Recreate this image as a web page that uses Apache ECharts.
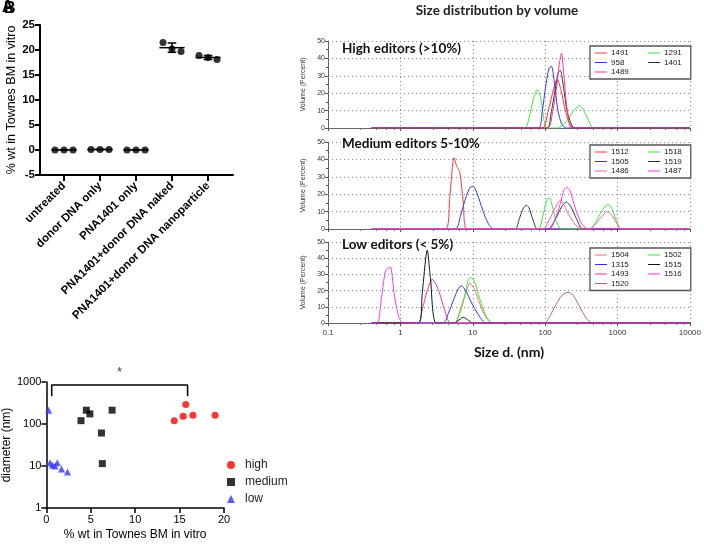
<!DOCTYPE html>
<html><head><meta charset="utf-8">
<script src="https://cdn.jsdelivr.net/npm/echarts@6/dist/echarts.min.js"></script>
<style>html,body{margin:0;padding:0;background:#fff}#c{width:704px;height:544px}</style>
</head><body><div id="c"></div>
<script>
// ---------- Panel A data ----------
const catsA = ['untreated','donor DNA only','PNA1401 only','PNA1401+donor DNA naked','PNA1401+donor DNA nanoparticle'];
const valsA = [
  [0, 0, 0],
  [0.1, 0.1, 0.1],
  [0, 0, 0],
  [21.5, 20.2, 19.7],
  [18.9, 18.5, 18.1]
];

// ---------- Panel B data (size nm, volume %) ----------
const highCol1 = ['1491','958','1489'];
const highCol2 = ['1291','1401'];
const h1491 = [[0.4,0],[90,0],[110,10],[130,22],[146,28],[165,22],[190,10],[215,3],[243,0],[10000,0]];
const h958  = [[0.4,0],[80,0],[90,8],[100,22],[112,34],[122,35.5],[135,25],[150,10],[170,2],[196,0],[10000,0]];
const h1291 = [[0.4,0],[52,0],[60,6],[68,16],[78,22],[86,18],[95,6],[105,0],[150,0],[190,3],[240,9],[300,13],[350,9],[410,3],[460,0],[10000,0]];
const h1401 = [[0.4,0],[105,0],[120,8],[137,22],[152,32],[162,33],[178,24],[200,10],[225,3],[251,0],[10000,0]];
const h1489 = [[0.4,0],[108,0],[125,8],[142,22],[158,38],[168,43],[180,32],[195,15],[212,4],[230,0],[10000,0]];

const medCol1 = ['1512','1505','1486'];
const medCol2 = ['1518','1519','1487'];
const m1512 = [[0.4,0],[4.2,0],[4.8,18],[5.5,41],[6.0,36],[6.6,33],[7.4,15],[8.3,0],[10000,0]];
const m1505 = [[0.4,0],[5.7,0],[6.8,8],[8.0,18],[9.2,24],[10.2,24.5],[12,18],[14.5,8],[17,2],[19.7,0],[10000,0]];
const m1518 = [[0.4,0],[80,0],[92,7],[104,16],[114,18],[124,14],[140,5],[160,0.5],[178,0],[410,0],[500,4],[600,10],[740,14.3],[850,11],[980,4],[1120,0],[10000,0]];
const m1519 = [[0.4,0],[38,0],[44,6],[50,12],[55,13.7],[60,12],[68,5],[78,0],[110,0],[140,6],[170,13],[196,15.5],[225,13],[270,6],[333,0],[10000,0]];
const m1486 = [[0.4,0],[94,0],[110,4],[130,10],[150,15],[164,16.6],[185,13],[220,7],[270,2],[333,0],[410,0],[500,3],[600,7],[712,10],[830,8],[980,3],[1120,0],[10000,0]];
const m1487 = [[0.4,0],[115,0],[135,5],[160,14],[180,22],[196,24],[220,22],[260,12],[320,3],[390,0],[10000,0]];

const lowCol1 = ['1504','1315','1493','1520'];
const lowCol2 = ['1502','1515','1516'];
const l1504 = [[0.4,0],[5.6,0],[6.5,6],[7.5,15],[8.5,22],[9.2,24.6],[10.5,21],[12.5,12],[15,4],[18.8,0],[10000,0]];
const l1315 = [[0.4,0],[3.9,0],[4.6,6],[5.5,15],[6.3,21],[6.9,23],[8.0,20],[9.5,13],[12,5],[15.2,0],[10000,0]];
const l1493 = [[0.4,0],[1.75,0],[2.0,8],[2.35,20],[2.76,27],[3.1,24],[3.5,18],[4.1,8],[5.0,0],[10000,0]];
const l1520 = [[0.4,0],[97,0],[115,4],[140,11],[170,17],[207,19],[245,17],[300,10],[370,3],[447,0],[10000,0]];
const l1502 = [[0.4,0],[5.6,0],[6.5,5],[7.5,14],[8.7,27],[9.5,28],[10.5,26],[12.5,15],[15,5],[18.8,0],[10000,0]];
const l1515 = [[0.4,0],[1.79,0],[2.0,18],[2.35,45],[2.6,28],[3.13,0],[5.5,0],[6.5,2],[7.4,3.5],[8.5,2],[10,0],[10000,0]];
const l1516 = [[0.4,0],[0.48,0],[0.55,16],[0.62,32],[0.68,34],[0.73,34.5],[0.82,18],[0.95,4],[1.09,0],[10000,0]];

// ---------- Panel C data (% wt, diameter nm) ----------
const highC = [[14.4,120],[15.4,153],[15.7,290],[16.5,162],[19.0,162]];
const medC  = [[3.9,120],[4.5,213],[4.9,174],[7.4,213],[6.2,61],[6.3,11.4]];
const lowC  = [[0.26,213],[0.41,12],[0.67,10.6],[0.97,10],[1.23,12],[1.71,8.5],[2.38,7.2]];
const bracketC = [[0.6,460],[0.6,850],[15.9,850],[15.9,460]];
const starC = [[8.25,850]];

// ---------- build ----------
const jitter = [-0.25, 0, 0.25];
const ptsA = [];
valsA.forEach((g,i)=>g.forEach((v,j)=>ptsA.push([i+jitter[j], v])));
const statsA = valsA.map((g,i)=>{
  const m = g.reduce((a,b)=>a+b,0)/g.length;
  const sd = Math.sqrt(g.reduce((a,b)=>a+(b-m)*(b-m),0)/(g.length-1));
  return [i, m, sd];
});

const AR = 'Liberation Sans, Arial, sans-serif';
const CAL = 'Lato, Carlito, sans-serif';
const chart = echarts.init(document.getElementById('c'), null, {renderer:'canvas'});

const bGrids = [
  {left:328, right:14, top:41, height:87},
  {left:328, right:14, top:142, height:87},
  {left:328, right:14, top:242, height:81}
];
function bX(gi, showLabel){
  return {gridIndex:gi, type:'log', logBase:10, min:0.1, max:10000, z:1,
    axisLine:{onZero:false, lineStyle:{color:'#666', width:1}},
    axisTick:{show:true, length:3, lineStyle:{color:'#555'}},
    minorTick:{show:true, splitNumber:5, length:2, lineStyle:{color:'#777'}},
    splitLine:{show:true, lineStyle:{type:[1,3], color:'#888'}},
    axisLabel:{show:showLabel, fontSize:8, color:'#333', fontFamily:AR, margin:6,
      formatter:v=>String(v)},
    name: showLabel ? 'Size d. (nm)' : '', nameLocation:'middle', nameGap:22,
    nameTextStyle:{fontSize:14, fontWeight:'bold', color:'#111', fontFamily:CAL}
  };
}
function bY(gi){
  return {gridIndex:gi, type:'value', min:0, max:50, interval:10,
    axisLine:{show:true, onZero:false, lineStyle:{color:'#555'}},
    axisTick:{show:true, length:3, lineStyle:{color:'#555'}},
    minorTick:{show:true, splitNumber:2, length:2},
    splitLine:{show:true, lineStyle:{type:[1,3], color:'#888'}},
    axisLabel:{fontSize:7, color:'#333', fontFamily:AR, margin:3},
    name:'Volume (Percent)', nameLocation:'middle', nameGap:13,
    nameTextStyle:{fontSize:7, color:'#333', fontFamily:AR}
  };
}
function lineS(name, data, color, gi){
  return {name, type:'line', data, xAxisIndex:gi, yAxisIndex:gi, symbol:'none',
    lineStyle:{color, width:1}, itemStyle:{color}, smooth:0.25, z:3};
}
const legText = {fontSize:8, color:'#222', fontFamily:AR, lineHeight:8, padding:[0,0,0,-1]};
function bLegendBox(names, top){
  return {data:names, left:590, top, orient:'vertical', itemWidth:12, itemHeight:1, icon:'rect',
    itemGap:1.5, padding:[3,62,3,5], borderColor:'#555', borderWidth:1.3, backgroundColor:'#fff',
    textStyle:legText, selectedMode:false, z:10};
}
function bLegendCol(names, top){
  return {data:names, left:648, top:top+3, orient:'vertical', itemWidth:12, itemHeight:1, icon:'rect',
    itemGap:1.5, padding:0, textStyle:legText, selectedMode:false, z:11};
}
const subTitle = {fontSize:13.5, fontWeight:'bold', color:'#111', fontFamily:CAL};

const option = {
  animation:false,
  title:[
    {text:'Size distribution by volume', left:497, top:4, textAlign:'center', padding:0,
     textStyle:{fontSize:13.5, fontWeight:'bold', color:'#222', fontFamily:CAL}},
    {text:'High editors (>10%)', left:342, top:42, padding:0, textStyle:subTitle},
    {text:'Medium editors 5-10%', left:342, top:137, padding:0, textStyle:subTitle},
    {text:'Low editors (< 5%)', left:342, top:238, padding:0, textStyle:subTitle},
    {text:'A', left:2, top:0, padding:0, textStyle:{fontSize:16, fontWeight:'bold', color:'#000', fontFamily:AR}},
    {text:'B', left:4, top:1, padding:0, textStyle:{fontSize:16, fontWeight:'bold', color:'#000', fontFamily:AR}}
  ],
  legend:[
    bLegendBox(highCol1, 46), bLegendCol(highCol2, 46),
    bLegendBox(medCol1, 145), bLegendCol(medCol2, 145),
    bLegendBox(lowCol1, 248), bLegendCol(lowCol2, 248),
    {data:['high','medium','low'], orient:'vertical', left:227, top:459, padding:0, itemWidth:8, itemHeight:8, itemGap:5,
     textStyle:{fontSize:12, color:'#222', fontFamily:AR, padding:[0,0,0,5]}, selectedMode:false}
  ],
  grid:[
    {left:40, top:25, width:193, height:150},
    bGrids[0], bGrids[1], bGrids[2],
    {left:45, top:382, width:179, height:126}
  ],
  xAxis:[
    {gridIndex:0, type:'value', min:-0.667, max:4.694,
     axisLine:{onZero:false, lineStyle:{color:'#000', width:2}},
     axisTick:{show:true, customValues:[0,1,2,3,4], length:6, lineStyle:{color:'#000', width:2}},
     axisLabel:{customValues:[0,1,2,3,4], rotate:45, fontSize:11.5, fontWeight:'bold', color:'#000', fontFamily:AR, margin:9,
       formatter:v=>catsA[Math.round(v)] || ''},
     splitLine:{show:false}},
    bX(1,false), bX(2,false), bX(3,true),
    {gridIndex:4, type:'value', min:0, max:20, interval:5,
     axisLine:{onZero:false, lineStyle:{color:'#000', width:1.5}},
     axisTick:{length:5, lineStyle:{color:'#000', width:1.5}},
     axisLabel:{fontSize:11, color:'#000', fontFamily:AR, margin:6},
     splitLine:{show:false},
     name:'% wt in Townes BM in vitro', nameLocation:'middle', nameGap:21,
     nameTextStyle:{fontSize:12, color:'#000', fontFamily:AR}}
  ],
  yAxis:[
    {gridIndex:0, type:'value', min:-5, max:25, interval:5,
     axisLine:{show:true, onZero:false, lineStyle:{color:'#000', width:2}},
     axisTick:{show:true, length:5, lineStyle:{color:'#000', width:2}},
     axisLabel:{fontSize:11.5, fontWeight:'bold', color:'#000', fontFamily:AR, margin:5},
     splitLine:{show:false},
     name:'% wt in Townes BM in vitro', nameLocation:'middle', nameGap:22,
     nameTextStyle:{fontSize:12.5, color:'#000', fontFamily:AR}},
    bY(1), bY(2), bY(3),
    {gridIndex:4, type:'log', logBase:10, min:1, max:1000,
     axisLine:{show:true, onZero:false, lineStyle:{color:'#000', width:1.5}},
     axisTick:{show:true, length:5, lineStyle:{color:'#000', width:1.5}},
     axisLabel:{fontSize:11, color:'#000', fontFamily:AR, margin:5, formatter:v=>String(v)},
     splitLine:{show:false},
     name:'diameter (nm)', nameLocation:'middle', nameGap:28,
     nameTextStyle:{fontSize:12, color:'#000', fontFamily:AR}}
  ],
  series:[
    {type:'scatter', xAxisIndex:0, yAxisIndex:0, data:ptsA, symbol:'circle', symbolSize:7,
     itemStyle:{color:'#000'}, z:3},
    {type:'custom', xAxisIndex:0, yAxisIndex:0, data:statsA, z:4,
     renderItem:(params, api)=>{
       const x=api.value(0), m=api.value(1), s=api.value(2);
       const c=api.coord([x,m]);
       const w=api.size([0.35,0])[0], cw=api.size([0.12,0])[0];
       const t=api.coord([x,m+s]), b=api.coord([x,m-s]);
       const st={stroke:'#000', lineWidth:1.5};
       return {type:'group', children:[
         {type:'line', shape:{x1:c[0]-w,y1:c[1],x2:c[0]+w,y2:c[1]}, style:st},
         {type:'line', shape:{x1:c[0],y1:t[1],x2:c[0],y2:b[1]}, style:st},
         {type:'line', shape:{x1:c[0]-cw,y1:t[1],x2:c[0]+cw,y2:t[1]}, style:st},
         {type:'line', shape:{x1:c[0]-cw,y1:b[1],x2:c[0]+cw,y2:b[1]}, style:st}
       ]};
     }},
    // panel B high
    lineS('1291', h1291, '#33ee33', 1),
    lineS('1491', h1491, '#ff3333', 1),
    lineS('958', h958, '#3333ff', 1),
    lineS('1401', h1401, '#333333', 1),
    lineS('1489', h1489, '#ff3399', 1),
    // medium
    lineS('1512', m1512, '#ff3333', 2),
    lineS('1505', m1505, '#3333ff', 2),
    lineS('1518', m1518, '#33ee33', 2),
    lineS('1519', m1519, '#333333', 2),
    lineS('1486', m1486, '#ff5c9d', 2),
    lineS('1487', m1487, '#ff33ff', 2),
    // low
    lineS('1520', l1520, '#b06868', 3),
    lineS('1504', l1504, '#ff6b6b', 3),
    lineS('1502', l1502, '#33ee33', 3),
    lineS('1315', l1315, '#3333ff', 3),
    lineS('1493', l1493, '#ff3388', 3),
    lineS('1515', l1515, '#111111', 3),
    lineS('1516', l1516, '#ff33ff', 3),
    // panel C
    {name:'high', type:'scatter', xAxisIndex:4, yAxisIndex:4, data:highC, symbol:'circle', symbolSize:7, itemStyle:{color:'#ff0000'}},
    {name:'medium', type:'scatter', xAxisIndex:4, yAxisIndex:4, data:medC, symbol:'rect', symbolSize:7, itemStyle:{color:'#000'}},
    {name:'low', type:'scatter', xAxisIndex:4, yAxisIndex:4, data:lowC, symbol:'triangle', symbolSize:7, itemStyle:{color:'#3333ff'}},
    {type:'line', xAxisIndex:4, yAxisIndex:4, data:bracketC, symbol:'none', lineStyle:{color:'#000', width:1.5}, clip:false},
    {type:'scatter', xAxisIndex:4, yAxisIndex:4, data:starC, symbol:'circle', symbolSize:1, clip:false,
     itemStyle:{color:'rgba(0,0,0,0)'},
     label:{show:true, position:'top', distance:6, formatter:'*', fontSize:12, color:'#000', fontFamily:AR}}
  ]
};
chart.setOption(option);
</script></body></html>
